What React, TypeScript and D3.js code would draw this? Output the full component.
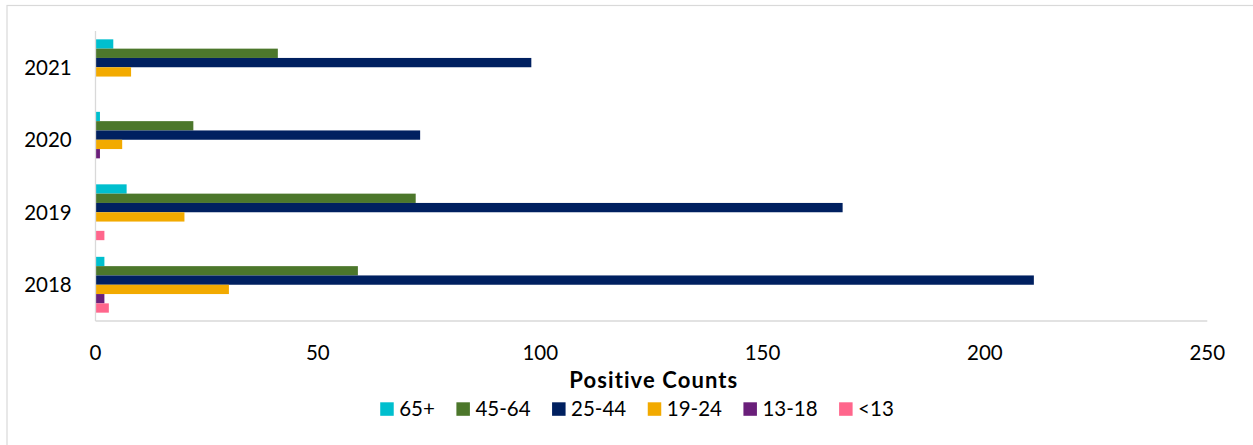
import React from "react";
import * as d3 from "d3";

// ---- data ----
const years = ["2021", "2020", "2019", "2018"]; // top to bottom
const seriesNames = ["65+", "45-64", "25-44", "19-24", "13-18", "<13"];
const v65plus = [4, 1, 7, 2];
const v45to64 = [41, 22, 72, 59];
const v25to44 = [98, 73, 168, 211];
const v19to24 = [8, 6, 20, 30];
const v13to18 = [0, 1, 0, 2];
const vUnder13 = [0, 0, 2, 3];
const xTicks = [0, 50, 100, 150, 200, 250];
const xTitle = "Positive Counts";

const seriesValues = [v65plus, v45to64, v25to44, v19to24, v13to18, vUnder13];
const colors = ["#00BFCE", "#4C772B", "#002060", "#F2AA00", "#6A1F7A", "#FF668C"];

const W = 1253;
const H = 445;
const FONT = "Lato, 'Open Sans', sans-serif";

function measure(text: string, font: string): number {
  if (typeof document === "undefined") return text.length * 11;
  const c = document.createElement("canvas");
  const ctx = c.getContext("2d");
  if (!ctx) return text.length * 11;
  ctx.font = font;
  return ctx.measureText(text).width;
}

export default function App() {
  const left = 95.5;
  const right = 1207.3;
  const top = 31;
  const bottom = 321;

  const x = d3.scaleLinear().domain([0, 250]).range([left, right]);
  const y = d3
    .scaleBand<string>()
    .domain(years)
    .range([top, bottom])
    .paddingInner(0.23)
    .paddingOuter(0.115);
  const ys = d3
    .scaleBand<string>()
    .domain(seriesNames)
    .range([0, y.bandwidth()])
    .padding(0);

  // legend layout
  const legendFontSize = 20.5;
  const sq = 13.5;
  const gapSqText = 5.5;
  const gapItem = 21.5;
  const widths = seriesNames.map((s) => measure(s, `${legendFontSize}px Lato`));
  const itemW = widths.map((w) => sq + gapSqText + w);
  const totalW = itemW.reduce((a, b) => a + b, 0) + gapItem * (seriesNames.length - 1);
  const legendCenter = 637;
  let cursor = legendCenter - totalW / 2;
  const legendX = itemW.map((w) => {
    const p = cursor;
    cursor += w + gapItem;
    return p;
  });

  return (
    <svg
      width={W}
      height={H}
      style={{ position: "absolute", left: 0, top: 0, background: "#fff" }}
      fontFamily={FONT}
    >
      <rect x={0} y={0} width={W} height={H} fill="#fff" />
      {/* outer chart border */}
      <rect x={7} y={5.5} width={W + 20} height={H + 20} fill="none" stroke="#D9D9D9" strokeWidth={1.2} />

      {/* bars */}
      {years.map((yr, i) => (
        <g key={yr} transform={`translate(0,${y(yr)})`}>
          {seriesNames.map((s, j) => {
            const v = seriesValues[j][i];
            if (!v) return null;
            return (
              <rect
                key={s}
                x={x(0)}
                y={ys(s)}
                width={x(v) - x(0)}
                height={ys.bandwidth()}
                fill={colors[j]}
              />
            );
          })}
        </g>
      ))}

      {/* axes lines */}
      <line x1={left} x2={left} y1={top} y2={bottom} stroke="#D9D9D9" strokeWidth={1.3} />
      <line x1={left} x2={right} y1={bottom} y2={bottom} stroke="#D9D9D9" strokeWidth={1.3} />

      {/* y labels */}
      {years.map((yr) => (
        <text
          key={yr}
          x={71.7}
          y={(y(yr) as number) + y.bandwidth() / 2}
          dy="0.36em"
          textAnchor="end"
          fontSize={20.5}
          fill="#000"
        >
          {yr}
        </text>
      ))}

      {/* x tick labels */}
      {xTicks.map((t) => (
        <text key={t} x={x(t)} y={360} textAnchor="middle" fontSize={20.5} fill="#000">
          {t}
        </text>
      ))}

      {/* x title */}
      <text
        x={653.8}
        y={388.3}
        textAnchor="middle"
        fontSize={22}
        fontWeight="bold"
        letterSpacing={1.1}
        fill="#000"
      >
        {xTitle}
      </text>

      {/* legend */}
      {seriesNames.map((s, j) => (
        <g key={s} transform={`translate(${legendX[j]},0)`}>
          <rect x={0} y={402.3} width={sq} height={sq} fill={colors[j]} />
          <text x={sq + gapSqText} y={416} fontSize={legendFontSize} fill="#000">
            {s}
          </text>
        </g>
      ))}
    </svg>
  );
}
